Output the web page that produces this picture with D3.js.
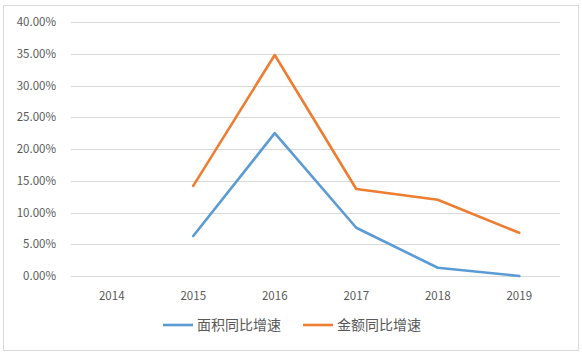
<!DOCTYPE html>
<html><head><meta charset="utf-8">
<script src="https://cdn.jsdelivr.net/npm/d3@7"></script>
<style>body{margin:0;background:#fff}svg{display:block}</style>
</head><body>
<svg id="c" width="582" height="355"></svg>
<script>
const categories = ["2014","2015","2016","2017","2018","2019"];
const areaGrowth = [null, 6.3, 22.5, 7.6, 1.3, 0.0];
const amountGrowth = [null, 14.2, 34.8, 13.7, 12.0, 6.8];
const seriesNames = ["面积同比增速","金额同比增速"];
const yTicks = [0,5,10,15,20,25,30,35,40];

const svg = d3.select("#c");
const font = "'Microsoft YaHei','Noto Sans CJK SC','DejaVu Sans',sans-serif";
svg.append("rect").attr("x",3.5).attr("y",5.5).attr("width",575).attr("height",345)
  .attr("fill","#fff").attr("stroke","#D9D9D9");

const x = d3.scaleBand().domain(categories).range([71,560]);
const y = d3.scaleLinear().domain([0,40]).range([276,22]);

const g = svg.append("g");
g.selectAll("line.grid").data(yTicks).join("line")
  .attr("x1",71).attr("x2",560).attr("y1",d=>Math.round(y(d))+0.5).attr("y2",d=>Math.round(y(d))+0.5)
  .attr("stroke","#D9D9D9").attr("stroke-width",1);
g.selectAll("text.yt").data(yTicks).join("text")
  .attr("x",56).attr("y",d=>y(d)).attr("dy","0.35em").attr("text-anchor","end")
  .attr("font-family",font).attr("font-size",11.5).attr("fill","#595959")
  .text(d=>d.toFixed(2)+"%");
g.selectAll("text.xt").data(categories).join("text")
  .attr("x",d=>x(d)+x.bandwidth()/2).attr("y",300).attr("text-anchor","middle")
  .attr("font-family",font).attr("font-size",11.5).attr("fill","#595959")
  .text(d=>d);

const line = d3.line().defined(d=>d.v!=null).x(d=>x(d.c)+x.bandwidth()/2).y(d=>y(d.v));
const colors = ["#5B9BD5","#ED7D31"];
[areaGrowth, amountGrowth].forEach((s,i)=>{
  g.append("path").datum(categories.map((c,j)=>({c,v:s[j]})))
    .attr("d",line).attr("fill","none").attr("stroke",colors[i]).attr("stroke-width",2.6)
    .attr("stroke-linejoin","round").attr("stroke-linecap","round");
});

const legX = [163,303];
seriesNames.forEach((n,i)=>{
  svg.append("line").attr("x1",legX[i]).attr("x2",legX[i]+30).attr("y1",325).attr("y2",325)
    .attr("stroke",colors[i]).attr("stroke-width",2.6);
  svg.append("text").attr("x",legX[i]+34).attr("y",325).attr("dy","0.35em")
    .attr("font-family",font).attr("font-size",14).attr("fill","#595959").text(n);
});
</script>
</body></html>
